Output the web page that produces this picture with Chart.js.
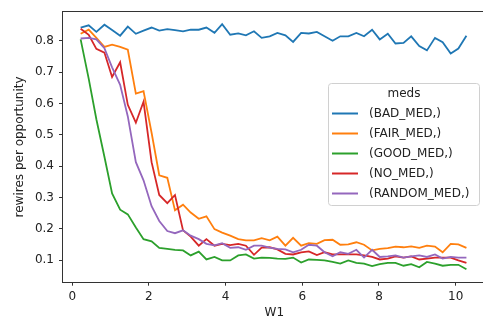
<!DOCTYPE html>
<html>
<head>
<meta charset="utf-8">
<script src="https://cdn.jsdelivr.net/npm/chart.js@4"></script>
<style>
  html, body { margin: 0; padding: 0; background: #fff; overflow: hidden; }
  canvas { display: block; }
</style>
</head>
<body>
<canvas id="chart" width="490" height="323"></canvas>
<script>
// W1 values (x)
const w1 = [0.22, 0.43, 0.63, 0.84, 1.04, 1.25, 1.45, 1.66, 1.86, 2.07,
  2.27, 2.48, 2.68, 2.89, 3.09, 3.30, 3.50, 3.71, 3.91, 4.12,
  4.33, 4.53, 4.74, 4.94, 5.15, 5.35, 5.56, 5.76, 5.97, 6.17,
  6.38, 6.58, 6.79, 6.99, 7.20, 7.41, 7.61, 7.82, 8.02, 8.23,
  8.43, 8.64, 8.84, 9.05, 9.25, 9.46, 9.66, 9.87, 10.07, 10.28];

const badMed = [0.843, 0.850, 0.829, 0.852, 0.835, 0.817, 0.846, 0.823, 0.833, 0.843,
  0.833, 0.838, 0.835, 0.831, 0.836, 0.836, 0.843, 0.826, 0.854, 0.820,
  0.824, 0.818, 0.831, 0.810, 0.815, 0.826, 0.818, 0.797, 0.826, 0.824,
  0.829, 0.815, 0.801, 0.815, 0.815, 0.826, 0.815, 0.836, 0.805, 0.823,
  0.792, 0.794, 0.815, 0.784, 0.770, 0.810, 0.796, 0.760, 0.776, 0.817];

const fairMed = [0.823, 0.836, 0.810, 0.781, 0.788, 0.781, 0.772, 0.632, 0.640, 0.507,
  0.371, 0.363, 0.259, 0.277, 0.252, 0.232, 0.240, 0.199, 0.188, 0.178,
  0.167, 0.163, 0.163, 0.170, 0.163, 0.175, 0.146, 0.171, 0.146, 0.154,
  0.152, 0.164, 0.165, 0.149, 0.150, 0.157, 0.149, 0.131, 0.136, 0.138,
  0.143, 0.141, 0.144, 0.139, 0.146, 0.143, 0.125, 0.152, 0.150, 0.139];

const goodMed = [0.805, 0.680, 0.550, 0.430, 0.313, 0.261, 0.246, 0.204, 0.167, 0.160,
  0.139, 0.136, 0.133, 0.131, 0.115, 0.127, 0.102, 0.110, 0.099, 0.099,
  0.115, 0.118, 0.105, 0.108, 0.107, 0.105, 0.104, 0.108, 0.092, 0.102,
  0.101, 0.099, 0.094, 0.089, 0.099, 0.091, 0.089, 0.081, 0.087, 0.091,
  0.091, 0.082, 0.087, 0.077, 0.094, 0.089, 0.082, 0.085, 0.085, 0.071];

const noMed = [0.839, 0.820, 0.775, 0.763, 0.685, 0.732, 0.596, 0.539, 0.606, 0.413,
  0.308, 0.282, 0.308, 0.195, 0.175, 0.146, 0.167, 0.146, 0.152, 0.148,
  0.152, 0.146, 0.117, 0.140, 0.141, 0.134, 0.120, 0.118, 0.125, 0.128,
  0.116, 0.125, 0.118, 0.118, 0.118, 0.118, 0.115, 0.110, 0.102, 0.105,
  0.112, 0.108, 0.112, 0.102, 0.105, 0.108, 0.108, 0.108, 0.099, 0.091];

const randomMed = [0.808, 0.810, 0.805, 0.777, 0.716, 0.660, 0.559, 0.413, 0.355, 0.272,
  0.225, 0.193, 0.186, 0.195, 0.178, 0.167, 0.152, 0.147, 0.154, 0.139,
  0.141, 0.133, 0.146, 0.146, 0.140, 0.136, 0.134, 0.125, 0.133, 0.149,
  0.146, 0.125, 0.112, 0.125, 0.120, 0.133, 0.108, 0.133, 0.110, 0.112,
  0.115, 0.108, 0.112, 0.115, 0.110, 0.118, 0.105, 0.110, 0.108, 0.108];

const seriesNames = ['(BAD_MED,)', '(FAIR_MED,)', '(GOOD_MED,)', '(NO_MED,)', '(RANDOM_MED,)'];
const seriesColors = ['#1f77b4', '#ff7f0e', '#2ca02c', '#d62728', '#9467bd'];
const xTicks = [0, 2, 4, 6, 8, 10];
const yTicks = [0.1, 0.2, 0.3, 0.4, 0.5, 0.6, 0.7, 0.8];

const FONT = 'DejaVu Sans';
Chart.defaults.font.family = FONT;
Chart.defaults.font.size = 12;
Chart.defaults.color = '#222';

const allSeries = [badMed, fairMed, goodMed, noMed, randomMed];
const datasets = allSeries.map((vals, k) => ({
  label: seriesNames[k],
  data: w1.map((x, i) => ({ x: x, y: vals[i] })),
  borderColor: seriesColors[k],
  backgroundColor: seriesColors[k],
  borderWidth: 1.8,
  pointRadius: 0,
  tension: 0,
  fill: false,
  order: allSeries.length - 1 - k   // later series on top, like matplotlib
}));

// frame around the plot area
const frame = {
  id: 'frame',
  afterDatasetsDraw(chart) {
    const { ctx, chartArea: a } = chart;
    ctx.save();
    ctx.strokeStyle = '#333';
    ctx.lineWidth = 1;
    ctx.strokeRect(Math.round(a.left) - 0.5, Math.round(a.top) - 0.5,
      Math.round(a.right - a.left) + 1, Math.round(a.bottom - a.top) + 1);
    ctx.restore();
  }
};

// matplotlib-style legend box with title
const mplLegend = {
  id: 'mplLegend',
  afterDraw(chart) {
    const ctx = chart.ctx;
    const x0 = 328.5, y0 = 83.5, w = 151, h = 122;
    ctx.save();
    ctx.fillStyle = 'rgba(255,255,255,0.8)';
    ctx.strokeStyle = '#d0d0d0';
    ctx.lineWidth = 1;
    ctx.beginPath();
    ctx.roundRect(x0, y0, w, h, 3);
    ctx.fill();
    ctx.stroke();

    ctx.font = '12px ' + FONT;
    ctx.fillStyle = '#222';
    ctx.textBaseline = 'middle';
    ctx.textAlign = 'center';
    ctx.fillText('meds', 404, 94);
    ctx.textAlign = 'left';
    chart.data.datasets.forEach((ds, k) => {
      const y = 113.5 + k * 20;
      ctx.strokeStyle = ds.borderColor;
      ctx.lineWidth = 2;
      ctx.beginPath();
      ctx.moveTo(332, y);
      ctx.lineTo(358, y);
      ctx.stroke();
      ctx.fillText(ds.label, 369, y);
    });
    ctx.restore();
  }
};

new Chart(document.getElementById('chart'), {
  type: 'line',
  data: { datasets: datasets },
  options: {
    responsive: false,
    animation: false,
    devicePixelRatio: 1,
    layout: { padding: { top: 7.3, right: 4.4, left: 0, bottom: 0 } },
    plugins: {
      legend: { display: false },
      tooltip: { enabled: false }
    },
    scales: {
      x: {
        type: 'linear',
        min: -0.24,
        max: 10.78,
        afterBuildTicks: s => { s.ticks = xTicks.map(v => ({ value: v })); },
        afterFit: s => { s.height = 41.3; },
        grid: { drawOnChartArea: false, drawTicks: true, tickLength: 4, color: '#333' },
        border: { display: false },
        ticks: { padding: 4, maxRotation: 0, callback: v => String(v) },
        title: { display: true, text: 'W1', padding: { top: 0, bottom: 3 } }
      },
      y: {
        type: 'linear',
        min: 0.031,
        max: 0.892,
        afterBuildTicks: s => { s.ticks = yTicks.map(v => ({ value: v })); },
        afterFit: s => { s.width = 63; },
        grid: { drawOnChartArea: false, drawTicks: true, tickLength: 4, color: '#333' },
        border: { display: false },
        ticks: { padding: 5, callback: v => v.toFixed(1) },
        title: { display: true, text: 'rewires per opportunity', padding: { top: 13, bottom: 0 } }
      }
    }
  },
  plugins: [frame, mplLegend]
});
</script>
</body>
</html>
